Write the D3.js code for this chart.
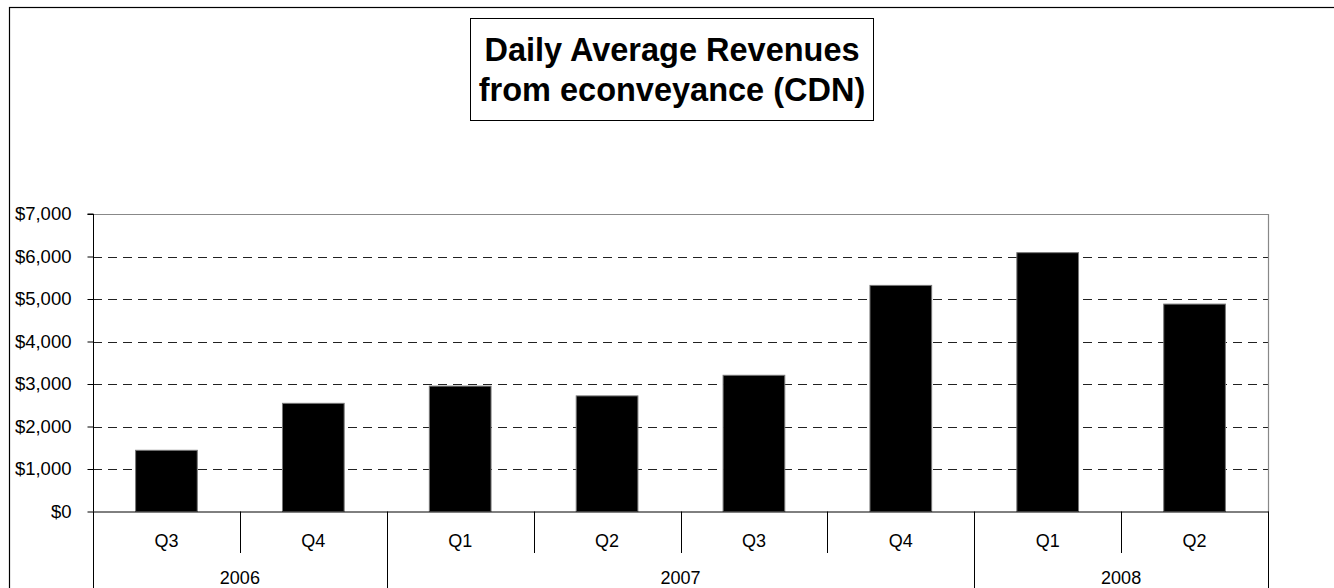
<!DOCTYPE html>
<html>
<head>
<meta charset="utf-8">
<script src="https://cdnjs.cloudflare.com/ajax/libs/d3/7.8.5/d3.min.js"></script>
<style>
  html, body { margin: 0; padding: 0; background: #fff; }
  svg { display: block; font-family: "Liberation Sans", Arial, sans-serif; }
</style>
</head>
<body>
<svg id="chart" width="1334" height="588"></svg>
<script>
// ---- data ----
const titleLines = ["Daily Average Revenues", "from econveyance (CDN)"];
const quarters = ["Q3", "Q4", "Q1", "Q2", "Q3", "Q4", "Q1", "Q2"];
const years    = ["2006", "2006", "2007", "2007", "2007", "2007", "2008", "2008"];
const values   = [1440, 2545, 2950, 2720, 3205, 5320, 6090, 4880];
const yTicks   = [0, 1000, 2000, 3000, 4000, 5000, 6000, 7000];

// ---- layout ----
const W = 1334, H = 588;
const plot = { left: 93, right: 1268, top: 214, bottom: 511.5 };

const svg = d3.select("#chart");

// outer chart border
svg.append("rect")
  .attr("x", 9.5).attr("y", 7.5)
  .attr("width", W + 20).attr("height", H + 20)
  .attr("fill", "none").attr("stroke", "#000").attr("stroke-width", 1.2);

// title box
const tb = { x: 470.5, y: 18.5, w: 403, h: 102 };
svg.append("rect")
  .attr("x", tb.x).attr("y", tb.y).attr("width", tb.w).attr("height", tb.h)
  .attr("fill", "#fff").attr("stroke", "#000").attr("stroke-width", 1);
svg.append("g").selectAll("text").data(titleLines).join("text")
  .attr("x", tb.x + tb.w / 2)
  .attr("y", (d, i) => 61 + i * 40)
  .attr("text-anchor", "middle")
  .attr("font-size", 32.5).attr("font-weight", "bold").attr("fill", "#000")
  .text(d => d);

// scales
const idx = quarters.map((q, i) => i);
const x = d3.scaleBand().domain(idx).range([plot.left, plot.right])
  .paddingInner(0.58).paddingOuter(0.29);
const y = d3.scaleLinear().domain([0, 7000]).range([plot.bottom, plot.top]);

// gridlines (dashed)
svg.append("g").selectAll("line").data(yTicks.filter(v => v > 0 && v < 7000)).join("line")
  .attr("x1", plot.left).attr("x2", plot.right)
  .attr("y1", d => Math.round(y(d)) + 0.5).attr("y2", d => Math.round(y(d)) + 0.5)
  .attr("stroke", "#222").attr("stroke-width", 1)
  .attr("stroke-dasharray", "9,6");

// plot-area border top/right (gray)
svg.append("line").attr("x1", plot.left).attr("x2", plot.right)
  .attr("y1", plot.top + 0.5).attr("y2", plot.top + 0.5)
  .attr("stroke", "#888").attr("stroke-width", 1.2);
svg.append("line").attr("x1", plot.right + 0.5).attr("x2", plot.right + 0.5)
  .attr("y1", plot.top).attr("y2", plot.bottom)
  .attr("stroke", "#888").attr("stroke-width", 1.2);

// bars
svg.append("g").selectAll("rect").data(values).join("rect")
  .attr("x", (d, i) => x(i))
  .attr("y", d => y(d))
  .attr("width", x.bandwidth())
  .attr("height", d => plot.bottom - y(d))
  .attr("fill", "#000").attr("stroke", "#777").attr("stroke-width", 1);

// y axis
const yAxis = d3.axisLeft(y).tickValues(yTicks)
  .tickFormat(d3.format("$,.0f")).tickSize(6).tickPadding(16);
const yg = svg.append("g").attr("transform", `translate(${plot.left + 0.5},0)`).call(yAxis);
yg.select(".domain").attr("stroke", "#000").attr("d", `M-6,${plot.top}H0V${plot.bottom}`);
yg.selectAll(".tick line").attr("stroke", "#000");
yg.selectAll(".tick text")
  .attr("font-family", "Liberation Sans, Arial, sans-serif")
  .attr("font-size", 18.5).attr("fill", "#000");

// x axis line
svg.append("line").attr("x1", plot.left).attr("x2", plot.right + 1)
  .attr("y1", plot.bottom + 0.5).attr("y2", plot.bottom + 0.5)
  .attr("stroke", "#000").attr("stroke-width", 1);

// quarter separators and labels
const step = x.step();
const edges = d3.range(quarters.length + 1).map(i => plot.left + i * step);
const yearBreaks = [0];
years.forEach((yv, i) => { if (i > 0 && yv !== years[i - 1]) yearBreaks.push(i); });
yearBreaks.push(years.length);

svg.append("g").selectAll("line").data(edges.map((e, i) => i)).join("line")
  .attr("x1", i => Math.round(edges[i]) + 0.5).attr("x2", i => Math.round(edges[i]) + 0.5)
  .attr("y1", plot.bottom)
  .attr("y2", i => yearBreaks.includes(i) ? H : 553)
  .attr("stroke", "#000").attr("stroke-width", 1);

svg.append("g").selectAll("text").data(quarters).join("text")
  .attr("x", (d, i) => x(i) + x.bandwidth() / 2)
  .attr("y", 546.5)
  .attr("text-anchor", "middle").attr("font-size", 18).attr("fill", "#000")
  .text(d => d);

// year labels
const groups = d3.range(yearBreaks.length - 1).map(k => ({
  year: years[yearBreaks[k]], a: yearBreaks[k], b: yearBreaks[k + 1]
}));
svg.append("g").selectAll("text").data(groups).join("text")
  .attr("x", g => (edges[g.a] + edges[g.b]) / 2)
  .attr("y", 584)
  .attr("text-anchor", "middle").attr("font-size", 18).attr("fill", "#000")
  .text(g => g.year);
</script>
</body>
</html>
